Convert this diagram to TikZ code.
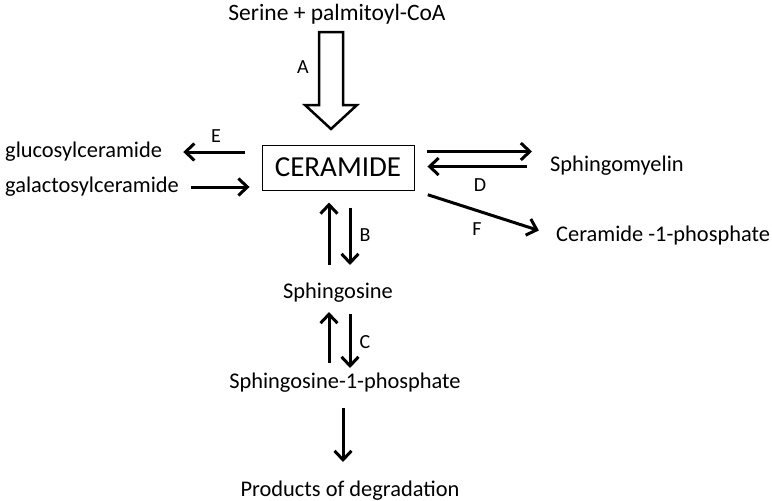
\documentclass[tikz,border=0pt]{standalone}
\usepackage{fontspec}
\setmainfont{Carlito}
\usepackage{tikz}
\usetikzlibrary{arrows.meta, calc}
\tikzset{
  label text/.style={font=\fontsize{22.4}{26}\selectfont, inner sep=0pt},
  enzyme/.style={font=\fontsize{20}{24}\selectfont, inner sep=0pt},
  arr/.style={line width=3pt, -{Straight Barb[length=9pt, width=17pt, line width=3pt]}},
  hollow/.style={line width=2.5pt, fill=white, line join=miter}
}

\begin{document}
\begin{tikzpicture}[x=1pt, y=-1pt]
  \useasboundingbox (0,0) rectangle (772,501);
  % metabolites
  \node[label text, font=\fontsize{23.5}{27}\selectfont] (serine) at (337,14) {Serine + palmitoyl-CoA};
  \node[draw, line width=0.9pt, minimum width=152pt, minimum height=45pt,
        font=\fontsize{29}{32}\selectfont] (ceramide) at (338,167.5) {CERAMIDE};
  \node[label text, anchor=west] (gluc) at (5,152) {glucosylceramide};
  \node[label text, anchor=west] (galac) at (5,187) {galactosylceramide};
  \node[label text, anchor=west] (sm) at (550,166) {Sphingomyelin};
  \node[label text, anchor=west] (c1p) at (556,236) {Ceramide -1-phosphate};
  \node[label text] (sph) at (338,293) {Sphingosine};
  \node[label text] (s1p) at (345,383) {Sphingosine-1-phosphate};
  \node[label text] (prod) at (350,491) {Products of degradation};

  % synthesis (A)
  \draw[hollow] (319,32) -- (343,32) -- (343,105) -- (357,105) -- (331,129)
    -- (305,105) -- (319,105) -- cycle;
  \node[enzyme] (a) at (303,67) {A};

  % glycosphingolipids (E)
  \draw[arr, shorten <=17pt, shorten >=21pt] (ceramide.west |- gluc.east) -- (gluc.east);
  \draw[arr, shorten <=12pt, shorten >=12pt] (galac.east) -- (ceramide.west |- galac.east);
  \node[enzyme] (e) at (216,136) {E};

  % sphingomyelin (D)
  \draw[arr, shorten <=13pt, shorten >=18pt] ([yshift=16pt]ceramide.east) -- ([yshift=16pt]ceramide.east -| sm.west);
  \draw[arr, shorten <=23pt, shorten >=13pt] ([yshift=1pt]ceramide.east -| sm.west) -- ([yshift=1pt]ceramide.east);
  \node[enzyme] (d) at (480,185) {D};

  % ceramide-1-phosphate (F)
  \draw[arr, shorten <=14pt, shorten >=18pt] (ceramide.south east) -- (c1p.west);
  \node[enzyme] (f) at (477,229) {F};

  % sphingosine (B)
  \draw[arr, shorten <=28pt, shorten >=35pt] ([xshift=-9pt]sph.center) -- ([xshift=-9pt]ceramide.center);
  \draw[arr, shorten <=40pt, shorten >=28pt] ([xshift=12pt]ceramide.center) -- ([xshift=12pt]sph.center);
  \node[enzyme] (b) at (365,235) {B};

  % sphingosine-1-phosphate (C)
  \draw[arr, shorten <=20pt, shorten >=19pt] ([xshift=-9pt]sph.center |- s1p.center) -- ([xshift=-9pt]sph.center);
  \draw[arr, shorten <=21pt, shorten >=15pt] ([xshift=12pt]sph.center) -- ([xshift=12pt]sph.center |- s1p.center);
  \node[enzyme] (c) at (365,342) {C};

  % degradation
  \draw[arr, shorten <=25pt, shorten >=29pt] ([xshift=5pt]sph.center |- s1p.center) -- ([xshift=5pt]sph.center |- prod.center);
\end{tikzpicture}
\end{document}
